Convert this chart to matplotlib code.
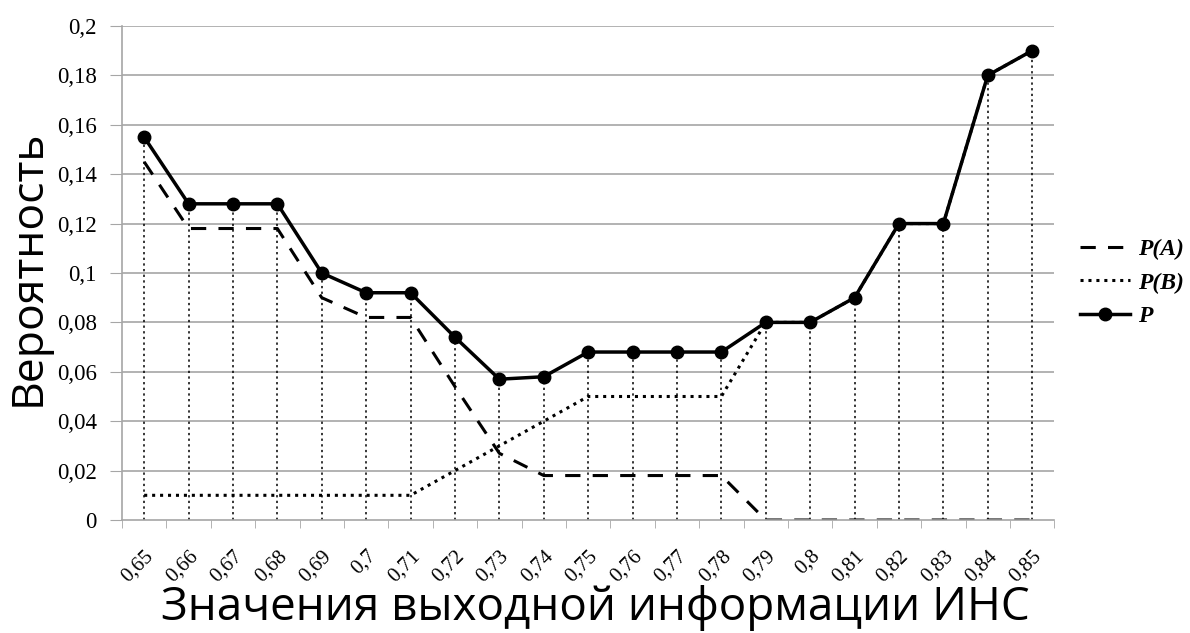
import numpy as np
import matplotlib
matplotlib.use("Agg")
import matplotlib.pyplot as plt

# Categories (ANN output values) and probabilities
categories = ["0,65", "0,66", "0,67", "0,68", "0,69", "0,7", "0,71", "0,72", "0,73", "0,74",
              "0,75", "0,76", "0,77", "0,78", "0,79", "0,8", "0,81", "0,82", "0,83", "0,84", "0,85"]
p_a = [0.145, 0.118, 0.118, 0.118, 0.09, 0.082, 0.082, 0.054, 0.027, 0.018,
       0.018, 0.018, 0.018, 0.018, 0.0, 0.0, 0.0, 0.0, 0.0, 0.0, 0.0]
p_b = [0.01, 0.01, 0.01, 0.01, 0.01, 0.01, 0.01, 0.02, 0.03, 0.04,
       0.05, 0.05, 0.05, 0.05, 0.08, 0.08, 0.09, 0.12, 0.12, 0.18, 0.19]
p = [0.155, 0.128, 0.128, 0.128, 0.1, 0.092, 0.092, 0.074, 0.057, 0.058,
     0.068, 0.068, 0.068, 0.068, 0.08, 0.08, 0.09, 0.12, 0.12, 0.18, 0.19]
y_ticks = [0, 0.02, 0.04, 0.06, 0.08, 0.1, 0.12, 0.14, 0.16, 0.18, 0.2]
y_labels = ["0", "0,02", "0,04", "0,06", "0,08", "0,1", "0,12", "0,14", "0,16", "0,18", "0,2"]

x = np.arange(len(categories))
serif = "Liberation Serif"
grey = "#a6a6a6"

fig = plt.figure(figsize=(11.9, 6.33), dpi=100)
ax = fig.add_axes([0.1025, 0.1785, 0.7835, 0.7805])

# grid
for yt in y_ticks[1:]:
    ax.axhline(yt, color=grey, lw=1.2, zorder=0)

# drop lines from P to the axis
ax.vlines(x, 0, p, colors="black", linestyles=(0, (1.5, 2.2)), lw=1.1, zorder=1)

ax.plot(x, p_a, color="black", lw=2.2, linestyle=(0, (5, 4)), label="P(A)", zorder=2)
ax.plot(x, p_b, color="black", lw=2.2, linestyle=(0, (1, 1.6)), label="P(B)", zorder=2)
ax.plot(x, p, color="black", lw=2.5, marker="o", markersize=9, label="P", zorder=3)

ax.set_xlim(-0.5, len(categories) - 0.5)
ax.set_ylim(0, 0.2)

ax.set_yticks(y_ticks)
ax.set_yticklabels(y_labels, fontfamily=serif, fontsize=16.5)
ax.set_xticks(x)
ax.set_xticklabels(categories, fontfamily=serif, fontsize=15, rotation=45,
                   ha="right", rotation_mode="anchor")
ax.set_xticks(np.arange(-0.5, len(categories)), minor=True)
ax.tick_params(axis="x", which="major", length=0, pad=19)
ax.tick_params(axis="x", which="minor", length=6, color=grey, direction="out")
ax.tick_params(axis="y", length=9, color=grey, pad=9)

for side in ["top", "right"]:
    ax.spines[side].set_visible(False)
for side in ["left", "bottom"]:
    ax.spines[side].set_color(grey)
    ax.spines[side].set_linewidth(1.2)

ax.set_ylabel("Вероятность", fontfamily="Open Sans", fontsize=32)
ax.yaxis.set_label_coords(-0.077, 0.51)
ax.set_xlabel("Значения выходной информации ИНС", fontfamily="Open Sans", fontsize=33)
ax.xaxis.set_label_coords(0.5075, -0.131)

leg = ax.legend(loc="center left", bbox_to_anchor=(1.028, 0.48), frameon=False,
                borderpad=0, borderaxespad=0,
                handlelength=2.1, handletextpad=0.35, labelspacing=0.5,
                prop={"family": serif, "style": "italic", "weight": "bold", "size": 17})

fig.savefig("out.png", dpi=100)
